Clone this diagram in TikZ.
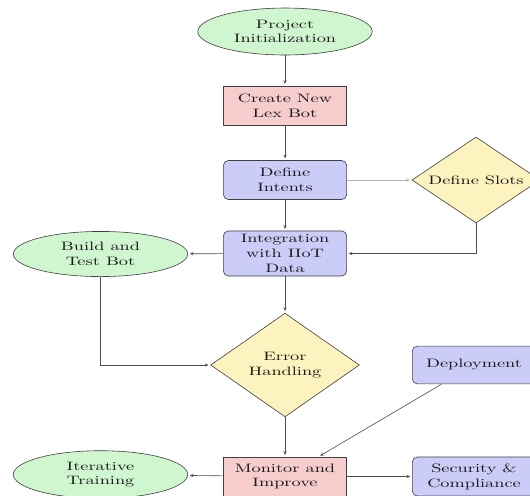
\documentclass[tikz,border=0pt]{standalone}
\usepackage{fontspec}
\setmainfont{lmroman10-regular.otf}[FakeStretch=1.5]
\usetikzlibrary{shapes.geometric,arrows.meta}
\definecolor{dyellow}{RGB}{252,243,190}
\definecolor{dgreen}{RGB}{208,246,208}
\definecolor{dred}{RGB}{246,204,204}
\definecolor{dblue}{RGB}{204,204,248}
\begin{document}
\begin{tikzpicture}[x=0.82pt,y=-0.82pt,
  base/.style={draw=black!75, line width=0.5pt, align=center, inner sep=3pt, text=black!90},
  startstop/.style={base, ellipse, fill=dgreen, minimum width=143pt, minimum height=38.5pt},
  process/.style={base, rectangle, fill=dred, minimum width=101pt, minimum height=32pt},
  iobox/.style={base, rectangle, rounded corners=4pt, fill=dblue, minimum width=101pt, minimum height=32pt},
  decision/.style={base, diamond, fill=dyellow, inner sep=1pt},
  arr/.style={draw=black!70, line width=0.5pt, -{Stealth[length=3pt,width=2.6pt]}, shorten >=1.5pt},
  lightarr/.style={arr, draw=black!30}]
\useasboundingbox (0,0) rectangle (530,495);

\node[startstop] (init) at (285,31.5) {Project\\Initialization};
\node[process] (create) at (285,105.5) {Create New\\Lex Bot};
\node[iobox] (intents) at (285,180) {Define\\Intents};
\node[decision, minimum width=105pt, minimum height=70.5pt, aspect=1.49] (slots) at (476,180) {Define Slots};
\node[iobox] (integ) at (285,253.5) {Integration\\with IIoT\\Data};
\node[startstop, minimum height=37pt] (build) at (100.5,254) {Build and\\Test Bot};
\node[decision, minimum width=122pt, minimum height=85pt, aspect=1.43] (error) at (285,365) {Error\\Handling};
\node[iobox, minimum height=31pt] (deploy) at (474,365) {Deployment};
\node[process] (monitor) at (285,476.5) {Monitor and\\Improve};
\node[startstop, minimum height=39pt] (iter) at (100.5,474.5) {Iterative\\Training};
\node[iobox] (security) at (474,476.5) {Security \&\\Compliance};

\draw[arr] (init) -- (create);
\draw[arr] (create) -- (intents);
\draw[lightarr] (intents) -- (slots);
\draw[arr] (intents) -- (integ);
\draw[arr] (slots) |- (integ);
\draw[arr] (integ) -- (build);
\draw[arr] (integ) -- (error);
\draw[arr] (build) |- (error);
\draw[arr] (error) -- (monitor);
\draw[arr] (deploy) -- (monitor);
\draw[arr] (monitor) -- (iter);
\draw[arr] (monitor) -- (security);
\end{tikzpicture}
\end{document}
